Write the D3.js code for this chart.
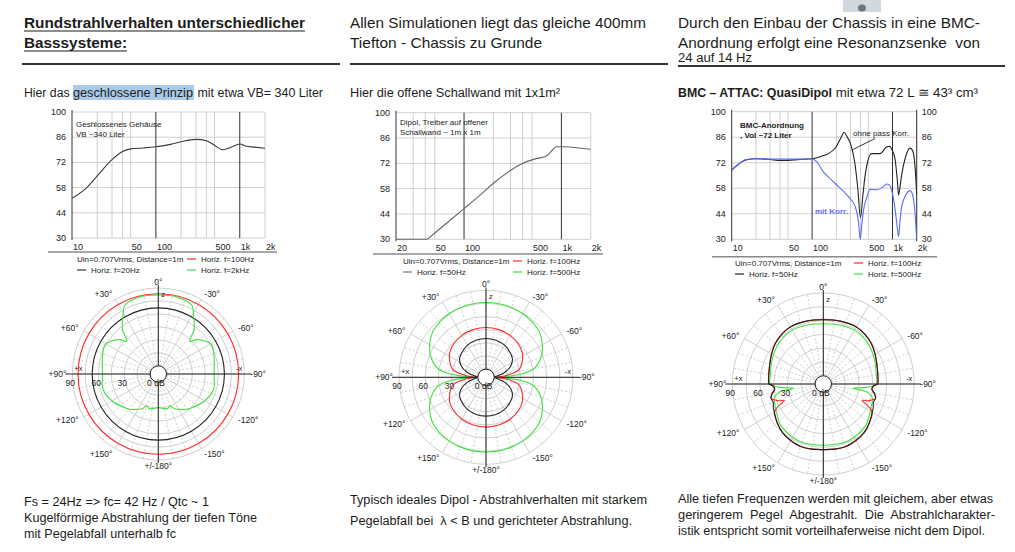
<!DOCTYPE html>
<html>
<head>
<meta charset="utf-8">
<script src="https://cdn.jsdelivr.net/npm/d3@7"></script>
<style>
body { margin: 0; background: #fff; }
svg { display: block; }
svg text { white-space: pre; }
</style>
</head>
<body>
<script>
var width = 1015, height = 552;

// Frequenzgaenge [Hz, dB]
var closedBox20Hz = [[10,52],[15,58],[20,64.5],[30,73.5],[40,78],[50,79.5],[70,80],[100,80.7],[150,82],[200,83.5],[300,84.8],[400,84],[500,81.5],[630,79],[800,80.5],[1000,82.2],[1200,81],[1500,80.5],[2000,79.8]];
var openBaffle50Hz = [[20,30],[41,30],[50,33.5],[70,40],[100,47],[150,55],[200,61],[300,68],[400,72],[550,74.6],[700,76],[900,81.2],[1100,81.2],[1500,80.5],[2000,79.8]];
var bmcOhneKorr = [[10,68],[12,71],[15,73.5],[20,74.2],[30,73.8],[40,73.2],[50,73.3],[70,73.8],[100,74.2],[130,75.5],[160,77],[200,80.8],[230,86],[250,88.7],[270,86.5],[300,82.5],[340,72],[370,58],[400,42],[430,55],[460,66],[550,77],[700,77],[850,80.8],[920,81],[1000,78.5],[1080,73.5],[1150,62],[1190,54.3],[1250,60],[1300,65.3],[1450,75],[1660,80],[1800,78],[1920,68],[2000,54]];
var bmcMitKorr = [[10,68],[12,71],[15,73.8],[20,74.2],[30,74],[50,74],[70,74],[100,74.2],[114,72.6],[138,67],[170,63],[203,59.8],[250,56],[283,53.4],[344,47.9],[378,39.6],[397,30],[415,38],[436,46],[480,53],[527,57.4],[640,57.2],[750,58.5],[850,60.3],[920,59.6],[1000,55],[1081,46],[1150,36],[1190,31.5],[1240,40],[1300,47.9],[1450,54],[1665,56.7],[1800,53.4],[1900,45],[2000,30]];

var dbTicks = [30, 44, 58, 72, 86, 100];

// Polardiagramme, halbe Kurve [Winkel, dB] (symmetrisch)
var closedRed100 = [[0,83.4],[30,83.4],[60,83.4],[90,83.4],[120,83.4],[150,83.4],[180,83.4]];
var closedBlack20 = [[0,67],[30,67],[60,67],[90,67],[120,67],[150,67],[180,67]];
var closedGreen2k = [[0,81.9],[13,82.3],[26,79],[30,71.5],[35,63],[39,56.3],[44,43],[48,50],[52,54.2],[61,60.8],[73,58],[90,55],[106,56.9],[122,51.7],[137,44.6],[143,42],[150,37.6],[155,35],[160,30],[165,32],[172,30.8],[180,29.2]];

var dipolBlack50 = [[0,35],[15,34.5],[30,33],[45,30],[55,27.5],[65,22],[75,13],[82,5],[90,0],[98,5],[105,13],[115,22],[125,27.5],[135,30],[150,33],[165,34.5],[180,35]];
var dipolRed100 = [[0,47.5],[15,47],[30,46],[45,43.5],[55,41],[65,36.5],[75,31],[80,25],[85,14],[88,6],[90,0],[92,6],[95,14],[100,25],[105,31],[115,36.5],[125,41],[135,43.5],[150,46],[165,47],[180,47.5]];
var dipolGreen500 = [[0,76],[10,76],[20,75.5],[30,74.5],[40,73],[50,70.5],[60,65],[70,57.5],[80,46],[85,30],[88,10],[90,0],[92,10],[95,30],[100,46],[110,57.5],[120,65],[130,70.5],[140,73],[150,74.5],[160,75.5],[170,76],[180,76]];

var bmcBlack50 = [[0,61],[15,61.8],[30,62.7],[40,61.5],[50,59.3],[60,56],[70,53],[80,51.2],[88,50.5],[90,50],[92,46],[96,44],[100,47],[105,50],[110,49],[115,51],[120,52.5],[130,56.5],[140,60],[150,62],[160,63.3],[170,63],[180,62.4]];
var bmcRed100 = [[0,61.3],[15,62],[30,62.8],[40,61.6],[50,59.4],[60,56.2],[70,53.2],[80,51.4],[88,50.7],[90,50.2],[92,46],[96,44.5],[100,47.5],[105,50],[110,44],[113,37],[116,45],[120,52.5],[130,56.5],[140,60],[150,62],[160,63.3],[170,63],[180,62.4]];
var bmcGreen500 = [[0,56.6],[15,57.5],[30,58.7],[40,58],[50,56.3],[65,52.7],[80,49.5],[90,48.7],[94,40],[98,24],[100,38],[105,46],[115,48.7],[125,52],[134,55.5],[150,58],[161,58.7],[180,57.7]];

var angleLabels = [[0,"0°"],[30,"+30°"],[60,"+60°"],[90,"+90°"],[120,"+120°"],[150,"+150°"],[180,"+/-180°"],[-30,"-30°"],[-60,"-60°"],[-90,"-90°"],[-120,"-120°"],[-150,"-150°"]];
var ringLabels = [[90,"90"],[60,"60"],[30,"30"]];

var svg = d3.select("body").append("svg")
    .attr("width", width)
    .attr("height", height)
    .style("font-family", "'Liberation Sans', Arial, sans-serif");

var RED = "#ff2a2a", GREEN = "#3ee23e", GRID = "#cfcfcf";

// Textzeile mit fester Breite
function line(x, y, s, size, len, bold, color) {
    var t = svg.append("text")
        .attr("x", x).attr("y", y)
        .attr("font-size", size)
        .attr("fill", color || "#1c1c1c")
        .text(s);
    if (bold) t.attr("font-weight", "bold");
    if (len) t.attr("textLength", len).attr("lengthAdjust", "spacingAndGlyphs");
    return t;
}

// kleines Fotostueck oben rechts
svg.append("rect").attr("x", 843).attr("y", 0).attr("width", 38).attr("height", 12).attr("fill", "#d3d7de");
svg.append("ellipse").attr("cx", 862).attr("cy", 8).attr("rx", 4).attr("ry", 3.5).attr("fill", "#6b7480");

// Ueberschriften
line(24, 28, "Rundstrahlverhalten unterschiedlicher", 15, 281, true);
line(24, 48, "Basssysteme:", 15, 103, true);
svg.append("line").attr("x1", 24).attr("x2", 305).attr("y1", 31).attr("y2", 31).attr("stroke", "#1c1c1c").attr("stroke-width", 1.2);
svg.append("line").attr("x1", 24).attr("x2", 127).attr("y1", 51).attr("y2", 51).attr("stroke", "#1c1c1c").attr("stroke-width", 1.2);

line(350, 28, "Allen Simulationen liegt das gleiche 400mm", 15, 296);
line(350, 48, "Tiefton - Chassis zu Grunde", 15, 192);

line(678, 28, "Durch den Einbau der Chassis in eine BMC-", 15, 302);
line(678, 48, "Anordnung erfolgt eine Resonanzsenke  von", 15, 302);
line(678, 62, "24 auf 14 Hz", 12, 74);

[[22, 340, 64], [350, 668, 64], [678, 1005, 66]].forEach(function(r) {
    svg.append("line").attr("x1", r[0]).attr("x2", r[1]).attr("y1", r[2]).attr("y2", r[2])
        .attr("stroke", "#333").attr("stroke-width", 2);
});

svg.append("rect").attr("x", 73).attr("y", 85).attr("width", 121).attr("height", 15).attr("fill", "#a9cbe9");
line(24, 97, "Hier das ", 12.5, 49);
line(73, 97, "geschlossene Prinzip", 12.5, 120);
line(194, 97, " mit etwa VB= 340 Liter", 12.5, 129);
line(350, 97, "Hier die offene Schallwand mit 1x1m²", 12.5, 210);
line(678, 97, "BMC – ATTAC: QuasiDipol", 12.5, 154, true);
line(832, 97, " mit etwa 72 L ≅ 43³ cm³", 12.5, 146);

// Texte unten
line(24, 506, "Fs = 24Hz => fc= 42 Hz / Qtc ~ 1", 12.5, 185);
line(24, 522, "Kugelförmige Abstrahlung der tiefen Töne", 12.5, 233);
line(24, 538, "mit Pegelabfall unterhalb fc", 12.5, 152);
line(350, 504, "Typisch ideales Dipol - Abstrahlverhalten mit starkem", 12.5, 297);
line(350, 525, "Pegelabfall bei  λ < B und gerichteter Abstrahlung.", 12.5, 282);
line(678, 503, "Alle tiefen Frequenzen werden mit gleichem, aber etwas", 12.5, 315);
line(678, 519, "geringerem  Pegel  Abgestrahlt.  Die  Abstrahlcharakter-", 12.5, 317);
line(678, 535, "istik entspricht somit vorteilhaferweise nicht dem Dipol.", 12.5, 307);

// ---------- Frequenzgang ----------
function freqChart(o) {
    var x = d3.scaleLog().domain([o.fmin, 2000]).range([o.x0, o.x1]);
    var y = d3.scaleLinear().domain([30, 100]).range([o.y1, o.y0]);
    var g = svg.append("g").attr("font-size", 8).attr("fill", "#222");
    var id = "clip" + Math.round(o.x0);
    svg.append("clipPath").attr("id", id).append("rect")
        .attr("x", o.x0).attr("y", o.y0).attr("width", o.x1 - o.x0).attr("height", o.y1 - o.y0 + 1);

    var minor = [20, 30, 40, 50, 200, 300, 400, 500, 2000].filter(function(f) { return f > o.fmin; });
    g.selectAll(".vmin").data(minor).enter().append("line")
        .attr("x1", x).attr("x2", x).attr("y1", o.y0).attr("y2", o.y1)
        .attr("stroke", GRID).attr("stroke-width", 1);
    g.selectAll(".hg").data(dbTicks).enter().append("line")
        .attr("x1", o.x0).attr("x2", o.x1).attr("y1", y).attr("y2", y)
        .attr("stroke", GRID).attr("stroke-width", 1);
    g.selectAll(".vmaj").data([100, 1000]).enter().append("line")
        .attr("x1", x).attr("x2", x).attr("y1", o.y0).attr("y2", o.y1)
        .attr("stroke", "#333").attr("stroke-width", 1);
    g.append("line").attr("x1", o.x0).attr("x2", o.x0).attr("y1", o.y0 - 2).attr("y2", o.y1 + 2)
        .attr("stroke", "#333");
    if (o.rightAxis) {
        g.append("line").attr("x1", o.x1).attr("x2", o.x1).attr("y1", o.y0 - 2).attr("y2", o.y1 + 2)
            .attr("stroke", "#333");
        g.selectAll(".yr").data(dbTicks).enter().append("text")
            .attr("x", o.x1 + 5).attr("y", function(d) { return y(d) + 3; })
            .attr("font-size", 9).text(String);
    }
    g.selectAll(".yl").data(dbTicks).enter().append("text")
        .attr("x", o.x0 - 6).attr("y", function(d) { return y(d) + 3; })
        .attr("text-anchor", "end").attr("font-size", 9).text(String);
    g.selectAll(".xl").data(o.xTicks).enter().append("text")
        .attr("x", function(d) { return x(d[0]) + 1; }).attr("y", o.y1 + 12)
        .attr("font-size", 9).text(function(d) { return d[1]; });

    var path = d3.line().x(function(d) { return x(d[0]); }).y(function(d) { return y(d[1]); })
        .curve(d3.curveMonotoneX);
    o.series.forEach(function(s) {
        svg.append("path").datum(s.data).attr("d", path).attr("fill", "none")
            .attr("stroke", s.color).attr("stroke-width", 1.1).attr("clip-path", "url(#" + id + ")");
    });

    // Trennlinie und Legende
    g.append("line").attr("x1", o.sep[0]).attr("x2", o.sep[1]).attr("y1", o.sep[2]).attr("y2", o.sep[2])
        .attr("stroke", "#8a8a8a").attr("stroke-width", 1.5);
    var L = o.legend;
    g.append("text").attr("x", L.x).attr("y", L.y).text("Uin=0.707Vrms, Distance=1m");
    var items = [[L.x, L.y + 11, L.c1, L.t1], [L.x2, L.y, RED, "Horiz. f=100Hz"], [L.x2, L.y + 11, GREEN, L.t3]];
    items.forEach(function(it) {
        g.append("line").attr("x1", it[0]).attr("x2", it[0] + 9).attr("y1", it[1] - 3).attr("y2", it[1] - 3)
            .attr("stroke", it[2]).attr("stroke-width", 1.2);
        g.append("text").attr("x", it[0] + 14).attr("y", it[1]).text(it[3]);
    });
    return { x: x, y: y, g: g };
}

var c1 = freqChart({ x0: 72, x1: 265, y0: 112, y1: 238, fmin: 10,
    xTicks: [[10,"10"],[50,"50"],[100,"100"],[500,"500"],[1000,"1k"],[2000,"2k"]],
    series: [{ data: closedBox20Hz, color: "#3a3a3a" }],
    sep: [48, 277, 252],
    legend: { x: 77, y: 262, x2: 187, c1: "#333", t1: "Horiz. f=20Hz", t3: "Horiz. f=2kHz" } });
c1.g.append("text").attr("x", 76).attr("y", 127).text("Geshlossenes Gehäuse");
c1.g.append("text").attr("x", 76).attr("y", 137).text("VB ~340 Liter");

var c2 = freqChart({ x0: 396, x1: 590.7, y0: 112.7, y1: 239.3, fmin: 20,
    xTicks: [[20,"20"],[50,"50"],[100,"100"],[500,"500"],[1000,"1k"],[2000,"2k"]],
    series: [{ data: openBaffle50Hz, color: "#666" }],
    sep: [373, 603, 254],
    legend: { x: 403, y: 264, x2: 513, c1: "#777", t1: "Horiz. f=50Hz", t3: "Horiz. f=500Hz" } });
c2.g.append("text").attr("x", 400).attr("y", 125).text("Dipol, Treiber auf offener");
c2.g.append("text").attr("x", 400).attr("y", 135).text("Schallwand ~ 1m x 1m");

var c3 = freqChart({ x0: 731.7, x1: 916.7, y0: 111.7, y1: 239.3, fmin: 10, rightAxis: true,
    xTicks: [[10,"10"],[50,"50"],[100,"100"],[500,"500"],[1000,"1k"],[2000,"2k"]],
    series: [{ data: bmcOhneKorr, color: "#222" }, { data: bmcMitKorr, color: "#5b68ff" }],
    sep: [712, 937, 256.7],
    legend: { x: 735, y: 266, x2: 854, c1: "#222", t1: "Horiz. f=50Hz", t3: "Horiz. f=500Hz" } });
c3.g.append("text").attr("x", 740).attr("y", 128).attr("font-weight", "bold").text("BMC-Anordnung");
c3.g.append("text").attr("x", 740).attr("y", 138).attr("font-weight", "bold").text(", Vol ~72 Liter");
c3.g.append("text").attr("x", 853).attr("y", 136).text("ohne pass Korr.");
c3.g.append("line").attr("x1", 875).attr("y1", 138.5).attr("x2", 852).attr("y2", 150).attr("stroke", "#222").attr("stroke-width", 0.9);
c3.g.append("text").attr("x", 815).attr("y", 214).attr("font-weight", "bold").attr("fill", "#6a6aff").text("mit Korr.");

// ---------- Polardiagramm ----------
function polar(cx, cy, R, series) {
    var r = d3.scaleLinear().domain([0, 90]).range([8.2, R]).clamp(true);
    var g = svg.append("g").attr("transform", "translate(" + cx + "," + cy + ")")
        .attr("font-size", 8.5).attr("fill", "#222");
    var rad = Math.PI / 180;

    g.selectAll(".ring").data([15, 30, 45, 60, 75, 90]).enter().append("circle")
        .attr("r", r).attr("fill", "none").attr("stroke", GRID).attr("stroke-width", 1);
    var spokes = d3.range(0, 360, 10);
    g.selectAll(".spoke").data(spokes).enter().append("line")
        .attr("x1", function(a) { return r(0) * Math.sin(a * rad); })
        .attr("y1", function(a) { return -r(0) * Math.cos(a * rad); })
        .attr("x2", function(a) { return R * Math.sin(a * rad); })
        .attr("y2", function(a) { return -R * Math.cos(a * rad); })
        .attr("stroke", GRID).attr("stroke-width", 1)
        .attr("stroke-dasharray", function(a) { return a % 30 === 0 ? null : "2,2"; });

    var radial = d3.lineRadial().radius(function(d) { return r(d[1]); })
        .angle(function(d) { return d[0] * rad; })
        .curve(d3.curveCatmullRomClosed.alpha(0.5));
    series.forEach(function(s) {
        var pts = s.data.map(function(d) { return [-d[0], d[1]]; });
        var back = s.data.slice(1, -1).reverse().map(function(d) { return [d[0], d[1]]; });
        g.append("path").datum(pts.concat(back)).attr("d", radial)
            .attr("fill", "none").attr("stroke", s.color).attr("stroke-width", 1.1);
    });

    g.append("line").attr("x1", -R - 7).attr("x2", R + 7).attr("y1", 0).attr("y2", 0).attr("stroke", "#222");
    g.append("line").attr("x1", 0).attr("x2", 0).attr("y1", -R - 3).attr("y2", R + 3).attr("stroke", "#222");
    g.append("circle").attr("r", r(0)).attr("fill", "#fff").attr("stroke", "#222");

    g.selectAll(".al").data(angleLabels).enter().append("text")
        .attr("x", function(d) { return -(R + 6) * Math.sin(d[0] * rad); })
        .attr("y", function(d) { return -(R + 6) * Math.cos(d[0] * rad) + 3; })
        .attr("text-anchor", function(d) { return d[0] === 0 || d[0] === 180 ? "middle" : (d[0] > 0 ? "end" : "start"); })
        .text(function(d) { return d[1]; });
    g.selectAll(".rl").data(ringLabels).enter().append("text")
        .attr("x", function(d) { return -r(d[0]) - 2; }).attr("y", 12)
        .attr("text-anchor", "middle").text(function(d) { return d[1]; });
    g.append("text").attr("x", -r(0) - 3).attr("y", 12).text("0 dB");
    g.append("text").attr("x", -R + 2).attr("y", -3).attr("font-size", 7.5).text("+x");
    g.append("text").attr("x", R - 2).attr("y", -3).attr("font-size", 7.5).attr("text-anchor", "end").text("-x");
    g.append("text").attr("x", 3).attr("y", -R + 9).attr("font-size", 7.5).text("z");
}

polar(158.3, 374, 86, [
    { data: closedRed100, color: RED },
    { data: closedBlack20, color: "#222" },
    { data: closedGreen2k, color: GREEN }]);
polar(486, 377.3, 87, [
    { data: dipolGreen500, color: GREEN },
    { data: dipolRed100, color: RED },
    { data: dipolBlack50, color: "#222" }]);
polar(823.3, 384, 91, [
    { data: bmcGreen500, color: GREEN },
    { data: bmcRed100, color: RED },
    { data: bmcBlack50, color: "#222" }]);
</script>
</body>
</html>
